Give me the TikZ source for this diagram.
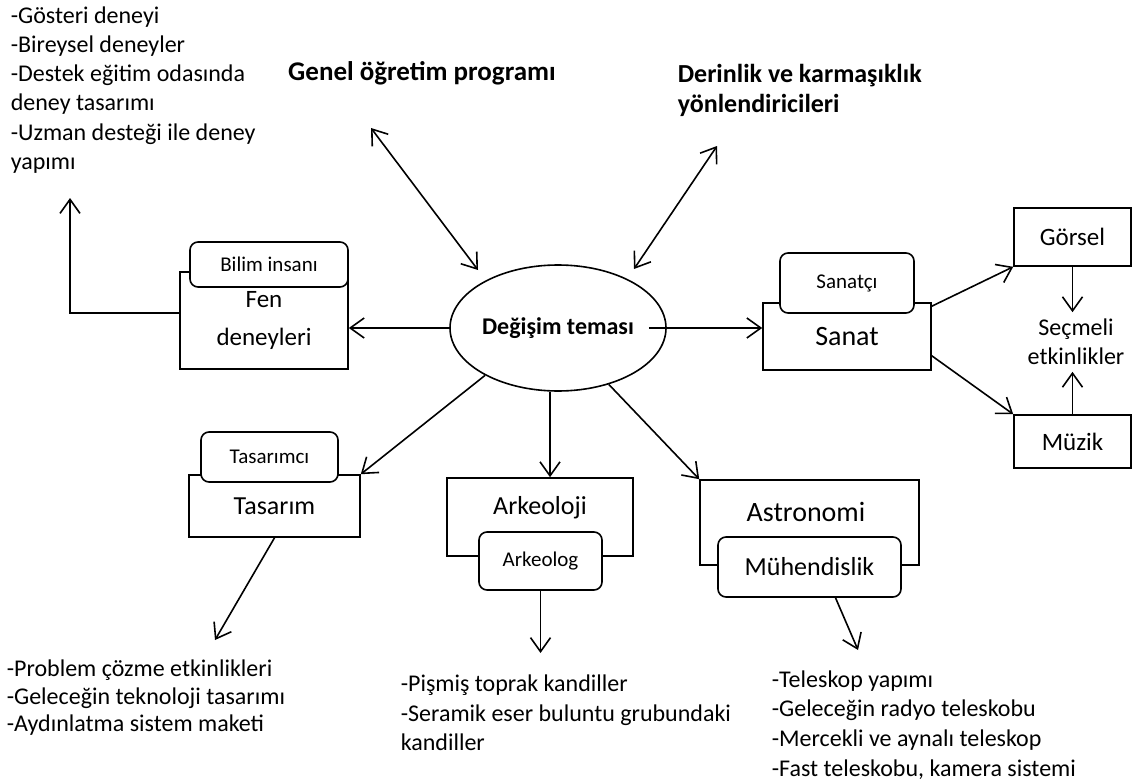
\documentclass[tikz,border=0pt]{standalone}
\usepackage{fontspec}
\setmainfont{Carlito}
\usetikzlibrary{shapes.geometric,arrows.meta}
\begin{document}
\begin{tikzpicture}[x=0.5pt,y=-0.5pt,line width=0.8pt,font=\fontsize{12}{14.6}\selectfont,
kutu/.style={draw,fill=white,shape=rectangle,inner sep=0pt},
rolkutu/.style={draw,fill=white,shape=rectangle,rounded corners=4pt,inner sep=0pt,font=\fontsize{10.5}{12}\selectfont},
liste/.style={align=left,anchor=west,inner sep=0pt},
ok/.style={-{Straight Barb[length=7pt,width=10pt]}},
ciftok/.style={{Straight Barb[length=7pt,width=10pt]}-{Straight Barb[length=7pt,width=10pt]}}]
\useasboundingbox (0,0) rectangle (1140,781);

\node[liste] (fenliste) at (10,90) {-Gösteri deneyi\\-Bireysel deneyler\\-Destek eğitim odasında\\deney tasarımı\\-Uzman desteği ile deney\\yapımı};
\node[font=\bfseries\fontsize{13.5}{16}\selectfont] (genel) at (422,73) {Genel öğretim programı};
\node[liste,font=\bfseries\fontsize{13}{15}\selectfont] (derinlik) at (677,90) {Derinlik ve karmaşıklık\\yönlendiricileri};

\node[draw,ellipse,minimum width=108pt,minimum height=63pt,inner sep=0pt,font=\bfseries\fontsize{12}{14.6}\selectfont] (tema) at (558,328) {Değişim teması};

\node[kutu,minimum width=84pt,minimum height=48.5pt,align=center,font=\fontsize{12.5}{19}\selectfont] (fen) at (264,320.5) {Fen\\deneyleri};
\node[rolkutu,minimum width=79pt,minimum height=22.5pt] (bilim) at (269,264.5) {Bilim insanı};

\node[kutu,minimum width=84pt,minimum height=33.5pt,font=\fontsize{14}{16}\selectfont] (sanat) at (847,336.5) {Sanat};
\node[rolkutu,minimum width=67pt,minimum height=30pt] (sanatci) at (847,283) {Sanatçı};
\node[kutu,minimum width=58.5pt,minimum height=29pt,font=\fontsize{12.5}{15}\selectfont] (gorsel) at (1072.5,237) {Görsel};
\node[kutu,minimum width=58.5pt,minimum height=26.5pt,font=\fontsize{12.5}{15}\selectfont] (muzik) at (1072.5,441.5) {Müzik};
\node[align=center,inner sep=3pt] (secmeli) at (1076,342) {Seçmeli\\etkinlikler};

\node[kutu,minimum width=85.5pt,minimum height=31pt,font=\fontsize{13}{15}\selectfont] (tasarim) at (274.5,506) {Tasarım};
\node[rolkutu,minimum width=68.5pt,minimum height=25pt] (tasarimci) at (269.5,457) {Tasarımcı};

\node[kutu,minimum width=93pt,minimum height=39pt] (arkeoloji) at (540,517) {};
\node[font=\fontsize{13}{15}\selectfont] (arkeolojiyazi) at (540,508) {Arkeoloji};
\node[rolkutu,minimum width=61.5pt,minimum height=29pt] (arkeolog) at (540.5,561) {Arkeolog};

\node[kutu,minimum width=109.5pt,minimum height=42.5pt] (astronomi) at (809.5,522.5) {};
\node[font=\fontsize{14}{16}\selectfont] (astronomiyazi) at (806,512) {Astronomi};
\node[rolkutu,minimum width=91.5pt,minimum height=30pt,font=\fontsize{13}{15}\selectfont] (muhendislik) at (809.5,567) {Mühendislik};

\node[liste,font=\fontsize{12}{13.75}\selectfont] (tasarimliste) at (6,698) {-Problem çözme etkinlikleri\\-Geleceğin teknoloji tasarımı\\-Aydınlatma sistem maketi};
\node[liste,font=\fontsize{12}{14.75}\selectfont] (arkeolojiliste) at (400,713) {-Pişmiş toprak kandiller\\-Seramik eser buluntu grubundaki\\kandiller};
\node[liste,font=\fontsize{12}{14.85}\selectfont] (astronomiliste) at (771,725) {-Teleskop yapımı\\-Geleceğin radyo teleskobu\\-Mercekli ve aynalı teleskop\\-Fast teleskobu, kamera sistemi};

\coordinate (genelok) at (371,128);
\coordinate (temasol) at (478,270);
\coordinate (derinlikok) at (717,146);
\coordinate (temasag) at (634,269);
\coordinate (fenok) at (70,198);
\coordinate (tasarimok) at (215,640);
\coordinate (arkeologok) at (540.5,653);
\coordinate (muhendislikok) at (858,650);

\draw[ciftok] (genelok) -- (temasol);
\draw[ciftok] (derinlikok) -- (temasag);
\draw[ok] (tema.west) -- (tema.west -| fen.east);
\draw[ok] ([yshift=3.75pt]fen.west) -| (fenok);
\draw[ok] ([xshift=-9pt]tema.east) -- (tema.east -| sanat.west);
\draw[ok] ([yshift=-2pt]sanat.north east) -- (gorsel.south west);
\draw[ok] ([yshift=7.5pt]sanat.south east) -- (muzik.north west);
\draw[ok] (gorsel.south) -- (gorsel.south |- secmeli.north);
\draw[ok] (muzik.north) -- (muzik.north |- secmeli.south);
\draw[ok] (tema.213) -- (tasarim.north east);
\draw[ok] ([xshift=-4pt]tema.south) -- ([xshift=-4pt]tema.south |- arkeoloji.north);
\draw[ok] (tema.312) -- (astronomi.north west);
\draw[ok] (tasarim.south) -- (tasarimok);
\draw[ok] (arkeolog.south) -- (arkeologok);
\draw[ok] ([xshift=13pt]muhendislik.south) -- (muhendislikok);
\end{tikzpicture}
\end{document}
